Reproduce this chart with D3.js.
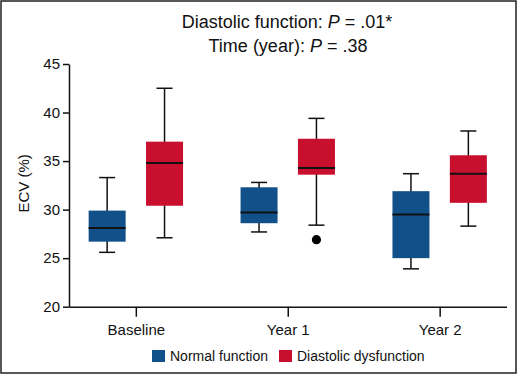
<!DOCTYPE html>
<html>
<head>
  <script src="https://d3js.org/d3.v7.min.js"></script>
  <style>
    html, body {
      margin: 0px;
      padding: 0px;
      background: #fff;
      font-family: "Liberation Sans", Arial, Helvetica, sans-serif;
    }
    .axis text {
      font-size: 15px;
      fill: #111;
    }
    .axis path, .axis line {
      stroke: #111;
      stroke-width: 1.5px;
    }
  </style>
</head>
<body>
  <div id="chart"></div>
  <script>
    // data
    const timepoints = ["Baseline", "Year 1", "Year 2"];
    const groups = ["Normal function", "Diastolic dysfunction"];
    const groupColors = ["#12508a", "#c8102e"];
    const yTicks = [20, 25, 30, 35, 40, 45];

    // [min, q1, median, q3, max] per timepoint
    const normalStats = [
      [25.6, 26.7, 28.1, 29.9, 33.3],
      [27.7, 28.6, 29.7, 32.3, 32.8],
      [23.9, 25.0, 29.5, 31.9, 33.7]
    ];
    const dysfunctionStats = [
      [27.1, 30.4, 34.8, 37.0, 42.5],
      [28.4, 33.6, 34.3, 37.3, 39.4],
      [28.3, 30.7, 33.7, 35.6, 38.1]
    ];
    // outliers: [timepoint, group index, value]
    const outliers = [["Year 1", 1, 26.9]];

    const width = 520, height = 377;
    const margin = {top: 64, left: 69, right: 13, bottom: 70};

    const svg = d3.select("#chart").append("svg")
      .attr("width", width)
      .attr("height", height);

    // frame around the figure
    svg.append("rect")
      .attr("x", 1).attr("y", 1)
      .attr("width", width - 5).attr("height", height - 5)
      .attr("fill", "none")
      .attr("stroke", "#222")
      .attr("stroke-width", 1.5);

    const x = d3.scalePoint()
      .domain(timepoints)
      .range([margin.left, width - margin.right - 0.5])
      .padding(0.44);

    const y = d3.scaleLinear()
      .domain([20, 45])
      .range([height - margin.bottom - 0.3, margin.top]);

    const offset = d3.scalePoint().domain([0, 1]).range([-28.7, 28.7]);
    const boxW = 37, capW = 16;

    // axes
    svg.append("g")
      .attr("class", "axis")
      .attr("transform", `translate(${margin.left},0)`)
      .call(d3.axisLeft(y).tickValues(yTicks).tickSize(6).tickSizeOuter(0).tickPadding(3));

    svg.append("g")
      .attr("class", "axis")
      .attr("transform", `translate(0,${y(20)})`)
      .call(d3.axisBottom(x).tickSize(10).tickSizeOuter(0).tickPadding(8));

    // y label
    svg.append("text")
      .attr("transform", `translate(29,${(y(20) + y(45)) / 2 - 2}) rotate(-90)`)
      .attr("text-anchor", "middle")
      .attr("font-size", 15)
      .attr("fill", "#111")
      .text("ECV (%)");

    // title
    const title = svg.append("text")
      .attr("x", 287)
      .attr("y", 28)
      .attr("text-anchor", "middle")
      .attr("font-size", 18)
      .attr("fill", "#111");
    title.append("tspan").text("Diastolic function: ");
    title.append("tspan").attr("font-style", "italic").text("P");
    title.append("tspan").text(" = .01*");

    const title2 = svg.append("text")
      .attr("x", 288)
      .attr("y", 52)
      .attr("text-anchor", "middle")
      .attr("font-size", 18)
      .attr("fill", "#111");
    title2.append("tspan").text("Time (year): ");
    title2.append("tspan").attr("font-style", "italic").text("P");
    title2.append("tspan").text(" = .38");

    // boxes
    const boxes = [];
    timepoints.forEach((t, i) => {
      boxes.push({t: t, g: 0, s: normalStats[i]});
      boxes.push({t: t, g: 1, s: dysfunctionStats[i]});
    });

    const bx = svg.append("g").selectAll("g")
      .data(boxes)
      .join("g")
      .attr("transform", d => `translate(${x(d.t) + offset(d.g)},0)`);

    // whiskers
    bx.append("line")
      .attr("x1", 0).attr("x2", 0)
      .attr("y1", d => y(d.s[0])).attr("y2", d => y(d.s[4]))
      .attr("stroke", "#111").attr("stroke-width", 1.5);
    bx.append("line")
      .attr("x1", -capW / 2).attr("x2", capW / 2)
      .attr("y1", d => y(d.s[0])).attr("y2", d => y(d.s[0]))
      .attr("stroke", "#111").attr("stroke-width", 1.5);
    bx.append("line")
      .attr("x1", -capW / 2).attr("x2", capW / 2)
      .attr("y1", d => y(d.s[4])).attr("y2", d => y(d.s[4]))
      .attr("stroke", "#111").attr("stroke-width", 1.5);

    bx.append("rect")
      .attr("x", -boxW / 2)
      .attr("width", boxW)
      .attr("y", d => y(d.s[3]))
      .attr("height", d => y(d.s[1]) - y(d.s[3]))
      .attr("fill", d => groupColors[d.g]);

    bx.append("line")
      .attr("x1", -boxW / 2).attr("x2", boxW / 2)
      .attr("y1", d => y(d.s[2])).attr("y2", d => y(d.s[2]))
      .attr("stroke", "#111").attr("stroke-width", 2);

    svg.append("g").selectAll("circle")
      .data(outliers)
      .join("circle")
      .attr("cx", d => x(d[0]) + offset(d[1]))
      .attr("cy", d => y(d[2]))
      .attr("r", 4.6)
      .attr("fill", "#000");

    // legend
    const legendX = [152, 279];
    const lg = svg.append("g").selectAll("g")
      .data(groups)
      .join("g")
      .attr("transform", (d, i) => `translate(${legendX[i]},350)`);
    lg.append("rect")
      .attr("width", 13).attr("height", 12)
      .attr("fill", (d, i) => groupColors[i]);
    lg.append("text")
      .attr("x", 18).attr("y", 11)
      .attr("font-size", 14)
      .attr("fill", "#111")
      .text(d => d);
  </script>
</body>
</html>
